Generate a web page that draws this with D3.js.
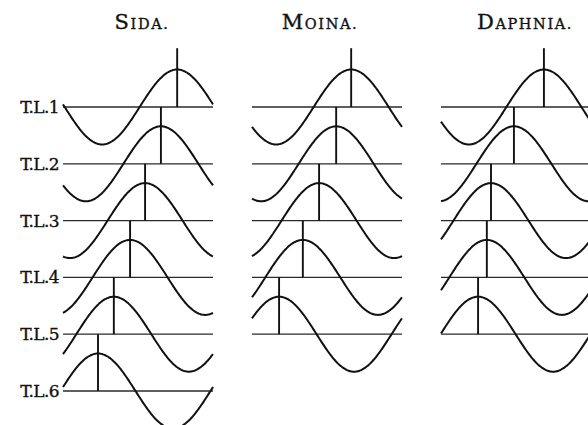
<!DOCTYPE html>
<html>
<head>
<meta charset="utf-8">
<script src="https://cdn.jsdelivr.net/npm/d3@7"></script>
<style>
  html, body { margin: 0; padding: 0; background: #fff; }
  svg { display: block; }
  text { font-family: "DejaVu Serif", "Liberation Serif", serif; fill: #111; stroke: #111; stroke-width: 0.35; }
</style>
</head>
<body>
<svg id="chart" width="588" height="425"></svg>
<script>
// Species shown side by side, one column each
const species = ["Sida", "Moina", "Daphnia"];

// Row labels (one per horizontal reference line)
const rowLabels = ["T.L.1", "T.L.2", "T.L.3", "T.L.4", "T.L.5", "T.L.6"];

// Phase of each wave crest, in degrees of one full cycle, top row first
const sidaCrest = [274, 235, 197, 161, 122, 84];
const moinaCrest = [238, 202, 161, 122, 65];
const daphniaCrest = [247, 175, 120, 110, 89];

const crests = [sidaCrest, moinaCrest, daphniaCrest];

const svg = d3.select("#chart");

const cycleWidth = 150;
const amp = 37.5;

// column origin for each species
const colX = d3.scalePoint().domain(species).range([63, 441]);

// vertical position of each reference line
const rowY = d3.scaleLinear().domain([0, rowLabels.length - 1]).range([107, 391]);
const rowStep = rowY(1) - rowY(0);

const phases = d3.range(0, 361, 2);

species.forEach((sp, si) => {
  const x0 = colX(sp);
  const x = d3.scaleLinear().domain([0, 360]).range([x0, x0 + cycleWidth]);
  const data = crests[si];
  const g = svg.append("g");

  // reference lines
  data.forEach((c, r) => {
    g.append("line")
      .attr("x1", x(0)).attr("x2", x(360))
      .attr("y1", rowY(r)).attr("y2", rowY(r))
      .attr("stroke", "#2a2a2a").attr("stroke-width", 1.3);
  });

  // crest markers: from each line up to the line above, at the crest
  data.forEach((c, r) => {
    g.append("line")
      .attr("x1", x(c)).attr("x2", x(c))
      .attr("y1", rowY(r)).attr("y2", rowY(r) - rowStep + (r === 0 ? -2 : 0))
      .attr("stroke", "#111").attr("stroke-width", 1.9);
  });

  // waves
  data.forEach((c, r) => {
    const y = d3.scaleLinear().domain([-1, 1]).range([rowY(r) + amp, rowY(r) - amp]);
    const line = d3.line()
      .x(p => x(p))
      .y(p => y(Math.cos((p - c) * Math.PI / 180)))
      .curve(d3.curveBasis);
    g.append("path")
      .datum(phases)
      .attr("d", line)
      .attr("fill", "none")
      .attr("stroke", "#111")
      .attr("stroke-width", 2);
  });

  // species title in small capitals
  const t = svg.append("text")
    .attr("x", x0 + cycleWidth / 2 + (si === 0 ? 4 : si === 1 ? -7 : 9))
    .attr("y", 29)
    .attr("text-anchor", "middle")
    .attr("letter-spacing", 1.6);
  t.append("tspan").attr("font-size", 21).text(sp[0]);
  t.append("tspan").attr("font-size", 14.5).text(sp.slice(1).toUpperCase() + ".");
});

// row labels on the left
svg.append("g").selectAll("text")
  .data(rowLabels)
  .join("text")
  .attr("x", 59)
  .attr("y", (d, i) => rowY(i) + 6)
  .attr("text-anchor", "end")
  .attr("font-size", 17)
  .attr("letter-spacing", -0.6)
  .text(d => d);
</script>
</body>
</html>
